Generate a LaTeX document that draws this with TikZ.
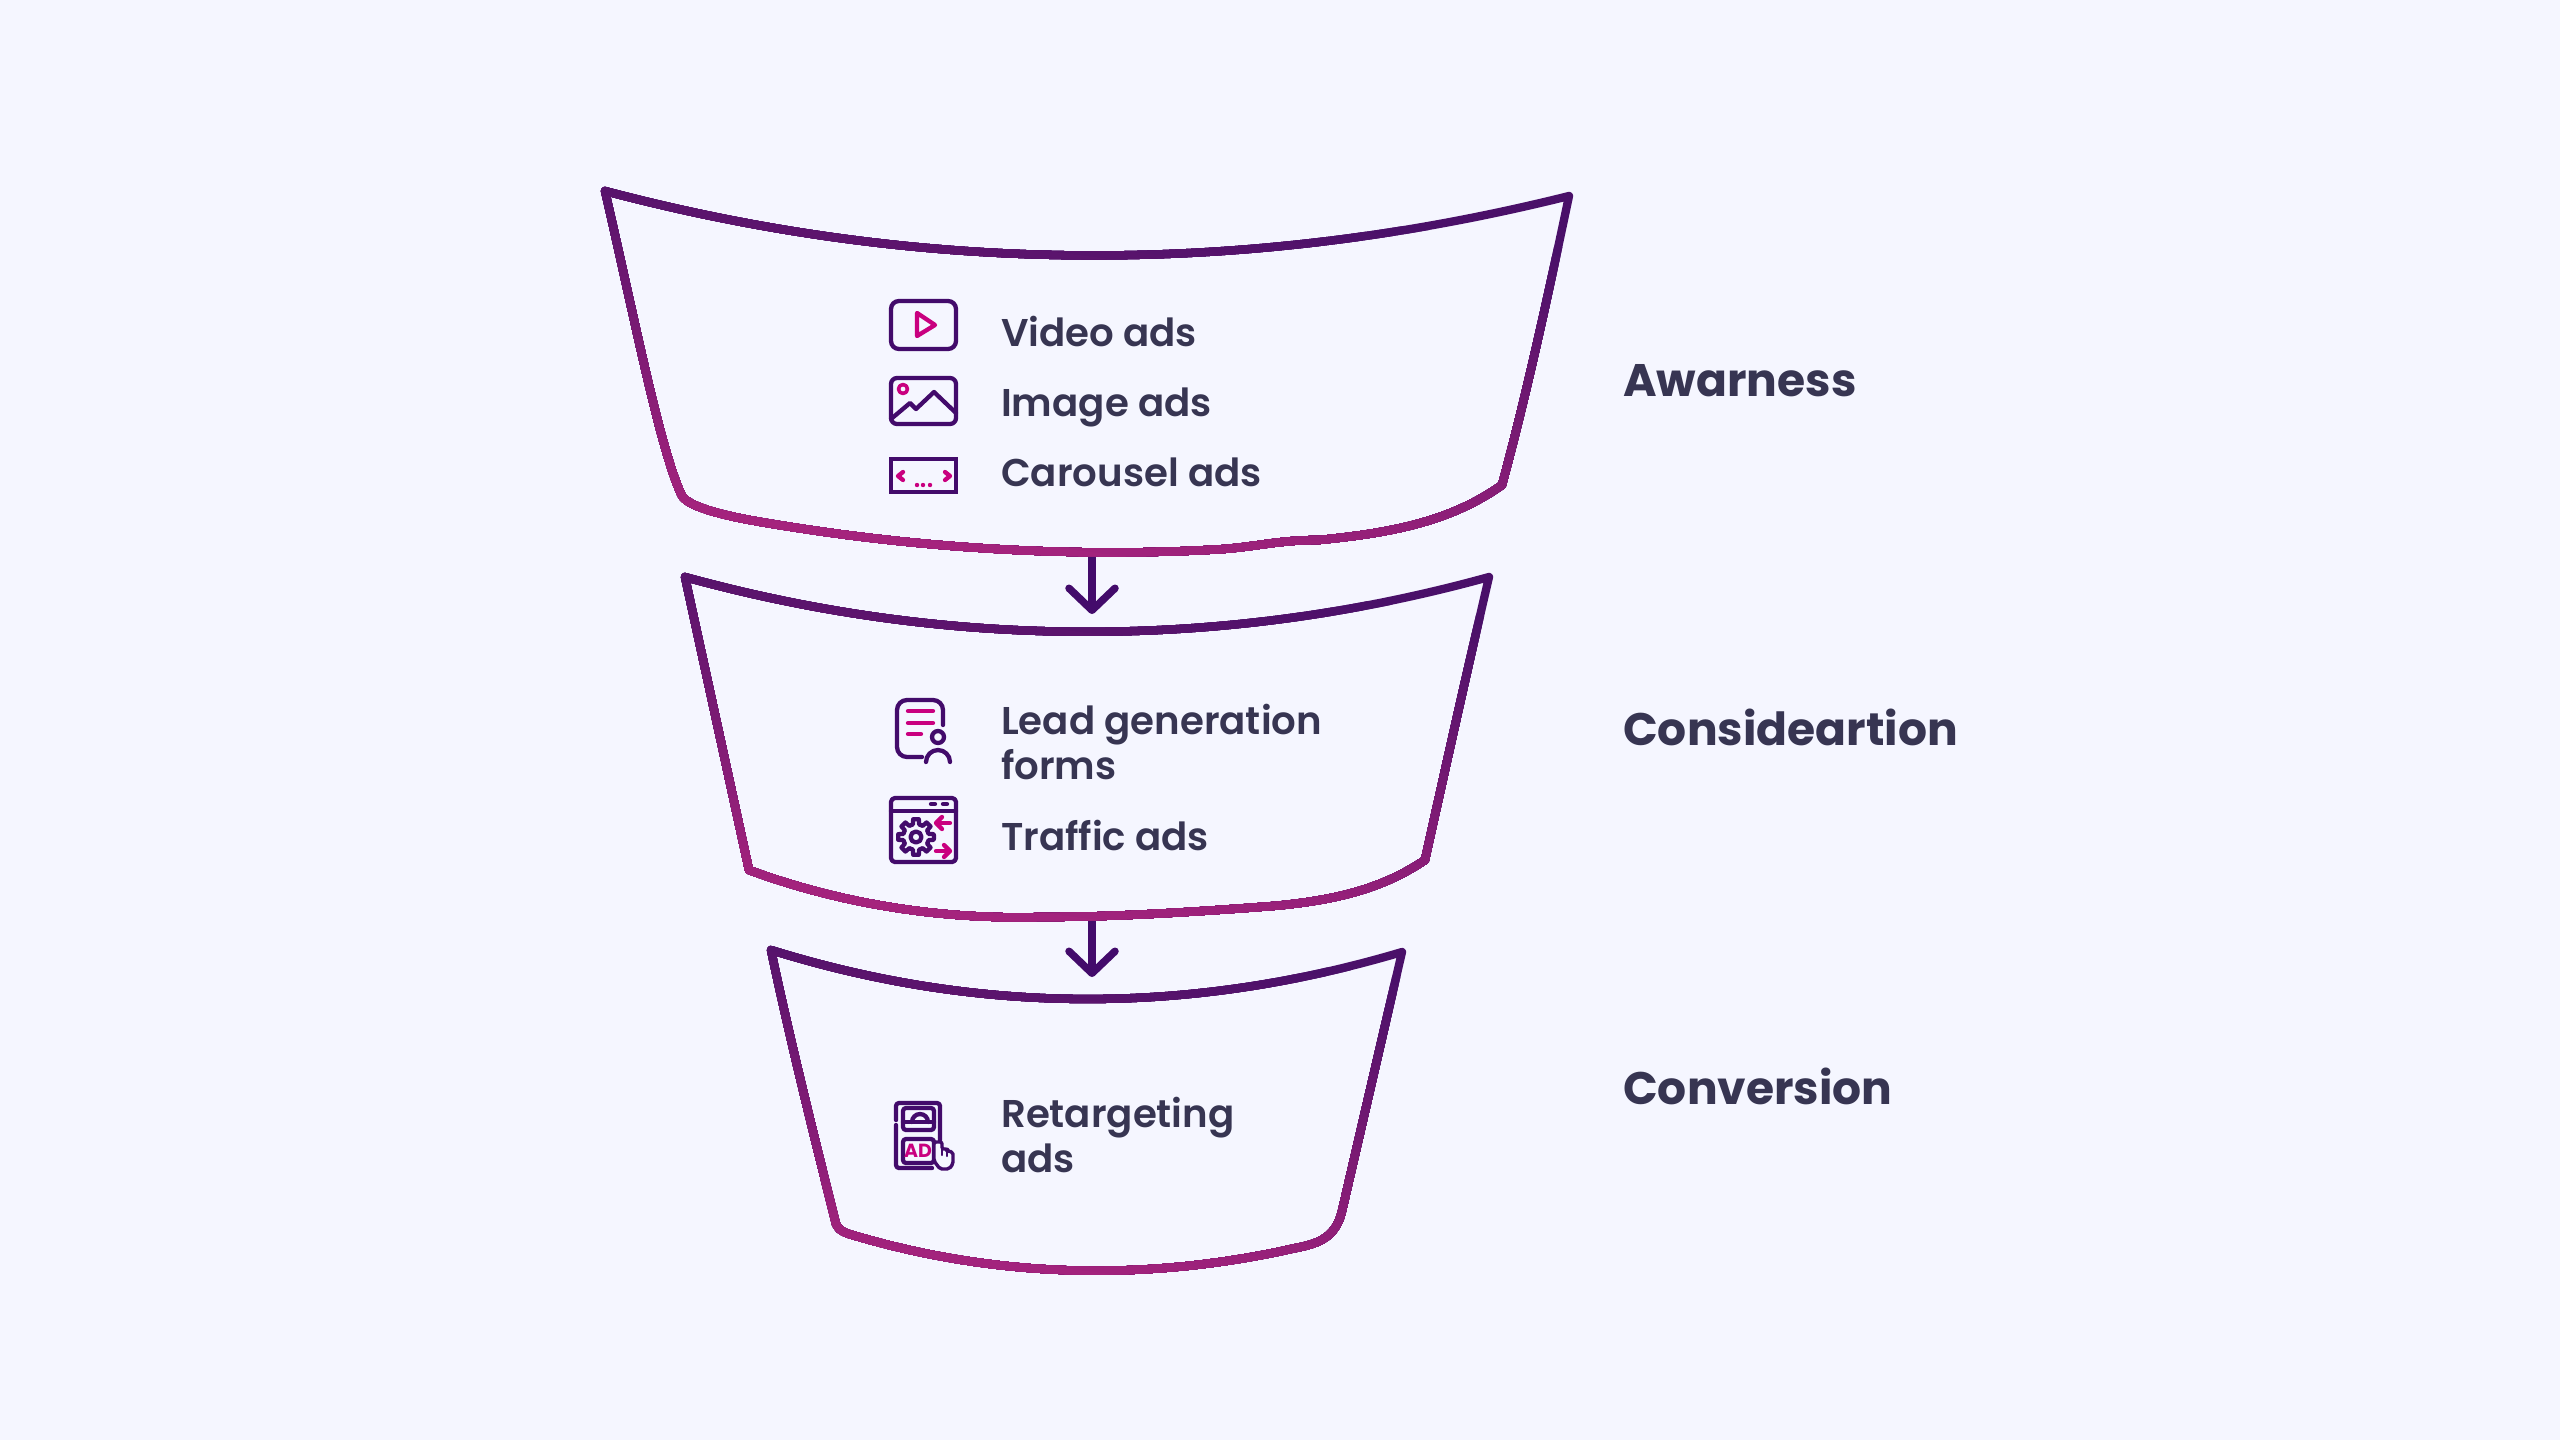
\documentclass[tikz,border=0pt]{standalone}
\usepackage{fontspec}
\setmainfont{Poppins}
\newfontfamily\itemfont{Poppins SemiBold}
\newfontfamily\headfont{Poppins Bold}
\usetikzlibrary{arrows.meta,positioning}

\definecolor{pagebg}{HTML}{F5F6FF}
\definecolor{inktext}{HTML}{373552}
\definecolor{icondark}{HTML}{430B6B}
\definecolor{iconpink}{HTML}{C9007F}
\definecolor{gradtop}{HTML}{4A1069}
\definecolor{gradbot}{HTML}{AA247E}

% funnel outlines
\def\awarepath{(605,191) .. controls (926,276) and (1248,276) .. (1569,196)
  .. controls (1545,310) and (1525,400) .. (1502,485)
  .. controls (1450,522) and (1390,533) .. (1319,540)
  .. controls (1280,540) and (1260,546) .. (1224,549)
  .. controls (1080,558) and (920,549) .. (767,523)
  .. controls (730,517) and (690,508) .. (682,496)
  .. controls (660,450) and (635,320) .. (605,191) -- cycle}
\def\considerpath{(685,577) .. controls (950,650) and (1225,650) .. (1489,577)
  .. controls (1465,680) and (1445,770) .. (1425,860)
  .. controls (1385,887) and (1340,900) .. (1273,906)
  .. controls (1180,913) and (1110,917) .. (1040,917)
  .. controls (930,920) and (830,900) .. (749,870)
  -- (685,577) -- cycle}
\def\convertpath{(771,950) .. controls (980,1015) and (1190,1015) .. (1402,952)
  -- (1342,1211)
  .. controls (1334,1246) and (1305,1245) .. (1282,1251)
  .. controls (1130,1283) and (985,1275) .. (849,1234)
  .. controls (840,1231) and (838,1228) .. (836,1224)
  .. controls (815,1140) and (790,1040) .. (771,950) -- cycle}

% stroke of a funnel: magenta creeps in from below, slice after slice
\newcommand{\funnelstroke}[3]{%
  \draw[funnelline, draw=gradtop] #1;
  \foreach \i in {0,...,40}{%
    \pgfmathsetmacro{\ycut}{#2+(#3-#2)*\i/40}
    \pgfmathsetmacro{\yleft}{\ycut-0.126*1095}
    \pgfmathsetmacro{\yright}{\ycut+0.126*1465}
    \pgfmathtruncatemacro{\mixval}{100-2.5*\i}
    \begin{scope}
      \clip (0,\yleft) -- (2560,\yright) -- (2560,1440) -- (0,1440) -- cycle;
      \draw[funnelline, draw=gradtop!\mixval!gradbot] #1;
    \end{scope}
  }%
}

\tikzset{
  funnelline/.style = {line width = 8.3pt, line join = round},
  flowarrow/.style = {draw = icondark, line width = 7.5pt,
    -{Straight Barb[length = 22pt, width = 46pt, round]}},
  iconline/.style = {draw = icondark, line width = 4.3pt, line cap = round, line join = round},
  iconmark/.style = {draw = iconpink, line width = 4.3pt, line cap = round, line join = round},
  itemlabel/.style = {anchor = base west, inner sep = 0pt, text = inktext, font = \itemfont\fontsize{38.7}{45}\selectfont, align = left},
  stagelabel/.style = {anchor = base west, inner sep = 0pt, text = inktext, font = \headfont\fontsize{45.6}{50}\selectfont}
}

\begin{document}
\begin{tikzpicture}[x = 1pt, y = -1pt]
\fill[pagebg] (0,0) rectangle (2560,1440);
\useasboundingbox (0,0) rectangle (2560,1440);

% arrows first, the funnels sit on top of them
\coordinate (awarebottom) at (1092,548);
\coordinate (awaretip) at (1092,614);
\coordinate (considerbottom) at (1092,916);
\coordinate (considertip) at (1092,977);
\draw[flowarrow] (awarebottom) -- (awaretip);
\draw[flowarrow] (considerbottom) -- (considertip);

\funnelstroke{\awarepath}{188}{582}
\funnelstroke{\considerpath}{567}{948}
\funnelstroke{\convertpath}{938}{1299}

% texts
\node[itemlabel] (videoads) at (1001,346) {Video ads};
\node[itemlabel] (imageads) at (1001,416) {Image ads};
\node[itemlabel] (carouselads) at (1001,486) {Carousel ads};
\node[itemlabel] (leadforms) at (1001,779) {Lead generation\\forms};
\node[itemlabel] (trafficads) at (1001,850) {Traffic ads};
\node[itemlabel] (retargetads) at (1001,1172) {Retargeting\\ads};
\node[stagelabel] (awareness) at (1623,396) {Awarness};
\node[stagelabel] (consideration) at (1623,745) {Consideartion};
\node[stagelabel] (conversion) at (1623,1104) {Conversion};

% video icon
\draw[iconline, rounded corners = 8pt] (891,301) rectangle (956,349);
\draw[iconmark] (917,313) -- (917,336) -- (935,325) -- cycle;

% image icon
\draw[iconline, rounded corners = 6pt] (891,378) rectangle (956,424);
\draw[iconline] (891,419) -- (910,403) -- (916,409) -- (934,392) -- (956,413);
\draw[iconmark, line width = 3.6pt] (903,389) circle (4.5);

% carousel icon
\draw[iconline, line join = miter] (891,459) rectangle (956,492);
\draw[iconmark] (903,472) -- (898,476) -- (903,480);
\draw[iconmark] (945,472) -- (950,476) -- (945,480);
\foreach \dotx in {917,923,930}
  \fill[iconpink] (\dotx,485) circle (2.2);

% lead form icon
\draw[iconline, rounded corners = 10pt] (943,725) -- (943,700) -- (897,700) -- (897,757) -- (922,757);
\draw[iconmark] (908,711) -- (933,711);
\draw[iconmark] (908,723) -- (933,723);
\draw[iconmark] (908,734) -- (921,734);
\draw[iconline] (938,737) circle (6);
\draw[iconline] (926,762) arc (180:360:12);

% traffic icon
\draw[iconline, rounded corners = 4pt] (891,798) rectangle (956,862);
\draw[iconline] (891,811) -- (956,811);
\draw[iconline] (931,804) -- (935,804);
\draw[iconline] (943,804) -- (947,804);
\begin{scope}[shift = {(916,837)}]
\draw[iconline] (0:18) \foreach \a in {0,45,...,315}{
  -- (\a+9:18) -- (\a+14:13) -- (\a+31:13) -- (\a+36:18) } -- cycle;
\draw[iconline] (0,0) circle (5.5);
\end{scope}
\draw[iconmark] (950,823) -- (937,823);
\draw[iconmark] (942,817) -- (936,823) -- (942,829);
\draw[iconmark] (936,851) -- (949,851);
\draw[iconmark] (944,845) -- (950,851) -- (944,857);

% retargeting icon
\draw[iconline, rounded corners = 3pt] (896,1120) -- (896,1103) -- (940,1103) -- (940,1140);
\draw[iconline, rounded corners = 3pt] (896,1125) -- (896,1168) -- (932,1168);
\draw[iconline, rounded corners = 3pt] (903,1108) rectangle (934,1130);
\draw[iconline] (903,1122) -- (934,1122);
\draw[iconline] (912,1122) arc (180:360:8);
\draw[iconline, rounded corners = 3pt] (903,1139) rectangle (934,1163);
\node[inner sep = 0pt, text = iconpink, font = \headfont\fontsize{19}{19}\selectfont] (adword) at (918,1151) {AD};
\draw[iconline, fill = pagebg, line width = 3.4pt, rounded corners = 2pt] (934,1161) -- (934,1142) -- (942,1142) -- (942,1149) -- (947,1149) -- (947,1151) -- (953,1152) -- (953,1164) -- (949,1169) -- (940,1169) -- cycle;
\draw[iconline, line width = 2.4pt] (942,1149) -- (942,1155);
\draw[iconline, line width = 2.4pt] (947,1151) -- (947,1156);
\end{tikzpicture}
\end{document}
